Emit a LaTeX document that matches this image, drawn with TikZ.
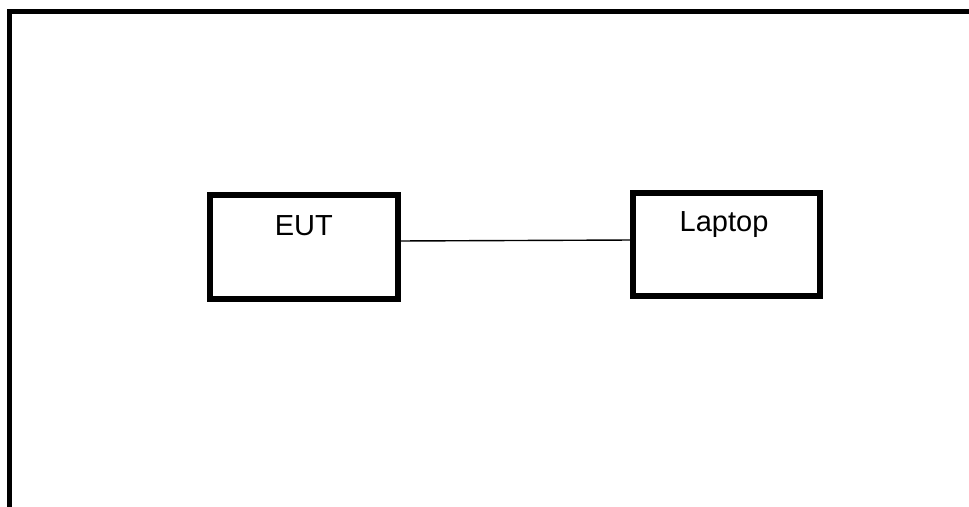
\documentclass[tikz,border=0pt]{standalone}
\usepackage{fontspec}
\setmainfont{Liberation Sans}
\begin{document}
\begin{tikzpicture}[x=1pt,y=-1pt,
  frame/.style={line width=5pt},
  devbox/.style={draw, line width=6pt, inner sep=0pt, outer sep=0pt},
  lbl/.style={font=\fontsize{29}{34}\selectfont, anchor=base, inner sep=0pt},
  wire/.style={line width=1.4pt}]
\useasboundingbox (0,0) rectangle (969,506);
\draw[frame] (9.5,520) -- (9.5,11.5) -- (990,11.5);
\node[devbox, minimum width=187.7pt, minimum height=104pt] (eut) at (303.85,247) {};
\node[devbox, minimum width=186.7pt, minimum height=103pt] (lap) at (726.35,244.5) {};
\node[lbl] (eutt) at ([yshift=-40pt]eut.north) {EUT};
\node[lbl] (lapt) at ([xshift=-2.3pt,yshift=-38.7pt]lap.north) {Laptop};
\coordinate (tick) at ([xshift=-2.5pt,yshift=4.5pt]lap.west);
\draw[wire] ([yshift=6pt]eut.east) -- ([yshift=4.5pt]lap.west);
\draw[wire] (tick) -- ++(0,20);
\end{tikzpicture}
\end{document}
